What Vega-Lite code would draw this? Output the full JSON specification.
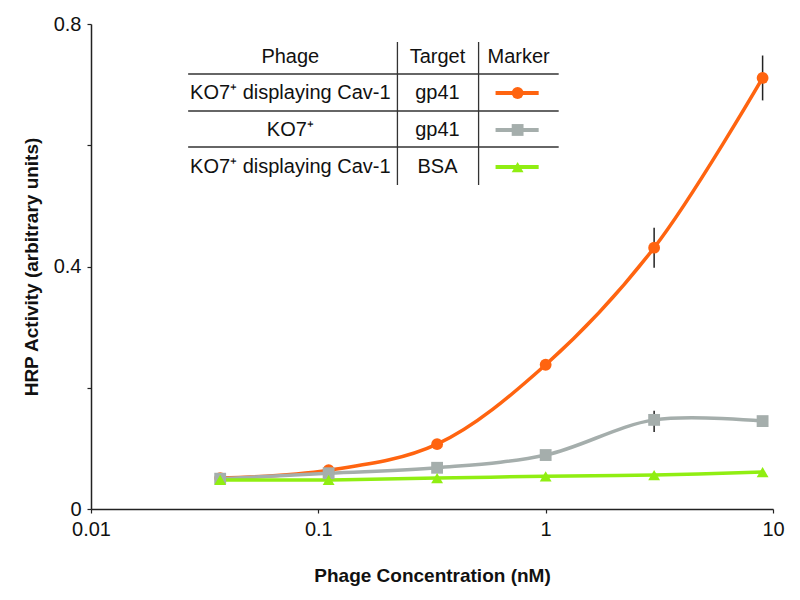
{
  "$schema": "https://vega.github.io/schema/vega-lite/v6.json",
  "width": 682,
  "height": 485,
  "autosize": {"type": "none"},
  "padding": {"left": 91, "top": 24, "right": 27, "bottom": 91},
  "background": "white",
  "config": {
    "view": {"stroke": null},
    "font": "Liberation Sans",
    "axis": {"grid": false, "domainColor": "#222", "domainWidth": 1.5, "tickColor": "#222", "tickWidth": 1.2, "labelColor": "#111", "titleColor": "#111", "labelFont": "Liberation Sans", "titleFont": "Liberation Sans"}
  },
  "datasets": {
    "series": [
      {"series": "A", "conc": 0.037, "value": 0.051},
      {"series": "A", "conc": 0.111, "value": 0.064},
      {"series": "A", "conc": 0.333, "value": 0.107},
      {"series": "A", "conc": 1, "value": 0.238},
      {"series": "A", "conc": 3, "value": 0.431},
      {"series": "A", "conc": 9, "value": 0.711},
      {"series": "B", "conc": 0.037, "value": 0.050},
      {"series": "B", "conc": 0.111, "value": 0.059},
      {"series": "B", "conc": 0.333, "value": 0.068},
      {"series": "B", "conc": 1, "value": 0.089},
      {"series": "B", "conc": 3, "value": 0.147},
      {"series": "B", "conc": 9, "value": 0.145},
      {"series": "C", "conc": 0.037, "value": 0.048},
      {"series": "C", "conc": 0.111, "value": 0.048},
      {"series": "C", "conc": 0.333, "value": 0.051},
      {"series": "C", "conc": 1, "value": 0.054},
      {"series": "C", "conc": 3, "value": 0.056},
      {"series": "C", "conc": 9, "value": 0.061}
    ],
    "errors": [
      {"series": "A", "conc": 3, "lo": 0.398, "hi": 0.464},
      {"series": "A", "conc": 9, "lo": 0.674, "hi": 0.748},
      {"series": "B", "conc": 3, "lo": 0.127, "hi": 0.162},
      {"series": "B", "conc": 9, "lo": 0.141, "hi": 0.152}
    ],
    "tableLines": [
      {"x1": 0.02675, "x2": 1.141, "y1": 0.7175, "y2": 0.7175},
      {"x1": 0.02675, "x2": 1.141, "y1": 0.6565, "y2": 0.6565},
      {"x1": 0.02675, "x2": 1.141, "y1": 0.5971, "y2": 0.5971},
      {"x1": 0.2228, "x2": 0.2228, "y1": 0.7703, "y2": 0.5344},
      {"x1": 0.5069, "x2": 0.5069, "y1": 0.7703, "y2": 0.5344}
    ],
    "tableText": [
      {"label": "Phage", "tx": 0.0753, "ty": 0.7456},
      {"label": "Target", "tx": 0.3343, "ty": 0.7456},
      {"label": "Marker", "tx": 0.7603, "ty": 0.7456},
      {"label": "KO7⁺ displaying Cav-1", "tx": 0.0753, "ty": 0.6862},
      {"label": "gp41", "tx": 0.3343, "ty": 0.6862},
      {"label": "KO7⁺", "tx": 0.0753, "ty": 0.6252},
      {"label": "gp41", "tx": 0.3343, "ty": 0.6252},
      {"label": "KO7⁺ displaying Cav-1", "tx": 0.0753, "ty": 0.5641},
      {"label": "BSA", "tx": 0.3343, "ty": 0.5641}
    ],
    "legendMarks": [
      {"series": "A", "lx1": 0.602, "lx2": 0.9316, "lx": 0.7527, "ly": 0.6862},
      {"series": "B", "lx1": 0.602, "lx2": 0.9316, "lx": 0.7527, "ly": 0.6252},
      {"series": "C", "lx1": 0.602, "lx2": 0.9316, "lx": 0.7527, "ly": 0.5641}
    ]
  },
  "layer": [
    {
      "data": {"name": "series"},
      "mark": {"type": "line", "interpolate": "catmull-rom", "strokeWidth": 3.5},
      "encoding": {
        "x": {"field": "conc", "type": "quantitative",
          "scale": {"type": "log", "domain": [0.01, 10], "nice": false},
          "axis": {"values": [0.01, 0.1, 1, 10], "format": "~g", "title": "Phage Concentration (nM)", "labelFontSize": 20, "labelPadding": 6, "tickSize": 4, "titleFontSize": 19, "titleFontWeight": "bold", "titlePadding": 27, "labelFlush": false}},
        "y": {"field": "value", "type": "quantitative",
          "scale": {"domain": [0, 0.8], "nice": false, "zero": true},
          "axis": {"values": [0, 0.2, 0.4, 0.6, 0.8], "format": ".1~f", "labelExpr": "datum.value == 0.2 || datum.value == 0.6 ? '' : datum.label", "title": "HRP Activity (arbitrary units)", "labelFontSize": 20, "labelPadding": 6, "tickSize": 4, "titleFontSize": 19, "titleFontWeight": "bold", "titlePadding": 12}},
        "color": {"field": "series", "type": "nominal", "scale": {"domain": ["A", "B", "C"], "range": ["#FF6410", "#A5AEAC", "#90EE12"]}, "legend": null}
      }
    },
    {
      "data": {"name": "errors"},
      "mark": {"type": "rule", "color": "#222", "strokeWidth": 1.5},
      "encoding": {
        "x": {"field": "conc", "type": "quantitative"},
        "y": {"field": "lo", "type": "quantitative"},
        "y2": {"field": "hi"}
      }
    },
    {
      "data": {"name": "series"},
      "mark": {"type": "point", "filled": true, "opacity": 1},
      "encoding": {
        "x": {"field": "conc", "type": "quantitative"},
        "y": {"field": "value", "type": "quantitative"},
        "color": {"field": "series", "type": "nominal", "legend": null},
        "shape": {"field": "series", "type": "nominal", "scale": {"domain": ["A", "B", "C"], "range": ["circle", "square", "triangle-up"]}, "legend": null},
        "size": {"field": "series", "type": "nominal", "scale": {"domain": ["A", "B", "C"], "range": [140, 140, 120]}, "legend": null}
      }
    },
    {
      "data": {"name": "tableLines"},
      "mark": {"type": "rule", "color": "#333", "strokeWidth": 1.3},
      "encoding": {
        "x": {"field": "x1", "type": "quantitative"},
        "x2": {"field": "x2"},
        "y": {"field": "y1", "type": "quantitative"},
        "y2": {"field": "y2"}
      }
    },
    {
      "data": {"name": "tableText"},
      "mark": {"type": "text", "fontSize": 20, "color": "#111", "align": "center", "baseline": "middle"},
      "encoding": {
        "x": {"field": "tx", "type": "quantitative"},
        "y": {"field": "ty", "type": "quantitative"},
        "text": {"field": "label"}
      }
    },
    {
      "data": {"name": "legendMarks"},
      "mark": {"type": "rule", "strokeWidth": 4},
      "encoding": {
        "x": {"field": "lx1", "type": "quantitative"},
        "x2": {"field": "lx2"},
        "y": {"field": "ly", "type": "quantitative"},
        "color": {"field": "series", "type": "nominal", "legend": null}
      }
    },
    {
      "data": {"name": "legendMarks"},
      "mark": {"type": "point", "filled": true, "opacity": 1},
      "encoding": {
        "x": {"field": "lx", "type": "quantitative"},
        "y": {"field": "ly", "type": "quantitative"},
        "color": {"field": "series", "type": "nominal", "legend": null},
        "shape": {"field": "series", "type": "nominal", "legend": null},
        "size": {"field": "series", "type": "nominal", "legend": null}
      }
    }
  ]
}
